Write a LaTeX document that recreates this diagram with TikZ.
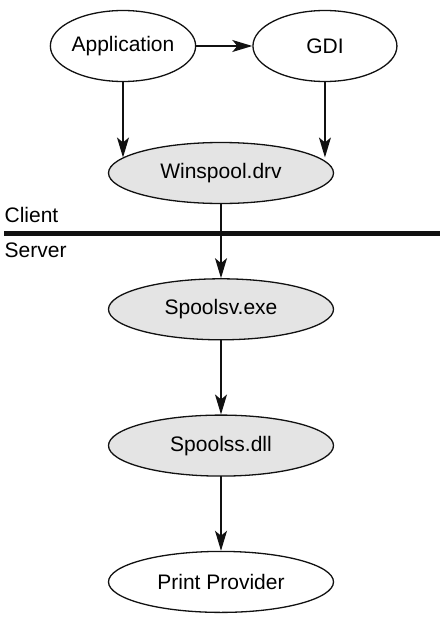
\documentclass[tikz,border=0pt]{standalone}
\usepackage{fontspec}
\setmainfont{Liberation Sans}
\usetikzlibrary{positioning,arrows.meta,shapes.geometric}
\definecolor{inkline}{HTML}{111111}
\definecolor{spool}{HTML}{E4E4E4}

\begin{document}
\begin{tikzpicture}[x=1pt,y=1pt,node distance=74pt,line width=1.3pt,draw=inkline,
  e/.style={ellipse,draw=inkline,line width=1.3pt,inner sep=0pt,minimum width=142pt,minimum height=71pt,font=\fontsize{21}{25}\selectfont},
  s/.style={e,minimum width=225pt,minimum height=61pt},
  g/.style={s,fill=spool},
  lbl/.style={anchor=base west,inner sep=0pt,font=\fontsize{21}{25}\selectfont},
  arr/.style={-{Stealth[length=20pt,width=12pt,inset=5pt]}}]
\useasboundingbox (0,0) rectangle (445,-621);
\node[e] (app) at (123,-46) {Application};
\node[e,right=56pt of app,minimum width=144pt] (gdi) {GDI};
\node[g] (win) at (221,-173) {Winspool.drv};
\node[g,below=of win] (spv) {Spoolsv.exe};
\node[g,below=of spv] (sps) {Spoolss.dll};
\node[s,below=of sps] (prov) {Print Provider};
\node[lbl] (client) at (4,-222) {Client};
\node[lbl] (server) at (4,-257) {Server};
\draw[line width=5pt] (4,-233.5) -- (440,-233.5);
\draw[arr] (app) -- (gdi);
\draw[arr] (app.south) -- (app.south |- win.171);
\draw[arr] (gdi.south) -- (gdi.south |- win.9);
\draw[arr] (win) -- (spv);
\draw[arr] (spv) -- (sps);
\draw[arr] (sps) -- (prov);
\end{tikzpicture}
\end{document}
